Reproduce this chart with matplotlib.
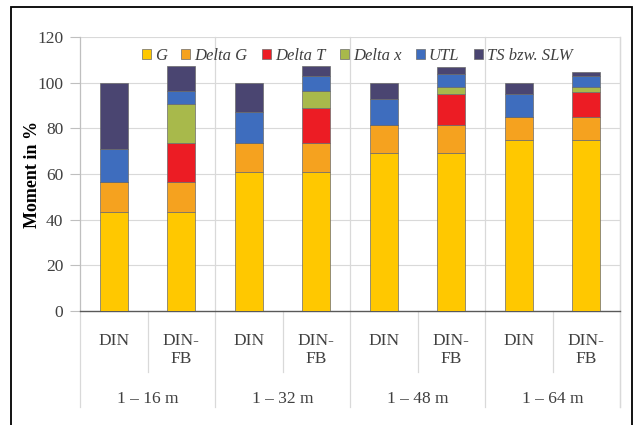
import matplotlib

matplotlib.use("Agg")
import matplotlib.pyplot as plt
from matplotlib.patches import Rectangle
import numpy as np

# data (percent of moment)
bar_labels = ["DIN", "DIN-\nFB"] * 4
groups = ["1 – 16 m", "1 – 32 m", "1 – 48 m", "1 – 64 m"]
series = ["G", "Delta G", "Delta T", "Delta x", "UTL", "TS bzw. SLW"]
g_vals = [43.4, 43.4, 60.7, 60.7, 69.3, 69.3, 74.9, 74.9]
delta_g = [13.2, 13.2, 12.7, 12.7, 12.1, 12.1, 9.9, 9.9]
delta_t = [0, 17.1, 0, 15.4, 0, 13.6, 0, 11.0]
delta_x = [0, 17.0, 0, 7.6, 0, 3.2, 0, 2.4]
utl = [14.2, 5.7, 13.6, 6.6, 11.3, 5.8, 10.2, 4.8]
ts_slw = [29.2, 10.9, 13.0, 4.3, 7.3, 3.0, 5.0, 1.8]
yticks = [0, 20, 40, 60, 80, 100, 120]

colors = ["#FFC800", "#F5A21F", "#EC1C24", "#A8B94B", "#3E6DBE", "#4A4571"]
serif = "Liberation Serif"
grid_c = "#D9D9D9"

fig = plt.figure(figsize=(6.39, 4.25), dpi=100)
W, H = 639, 425
ax = fig.add_axes([80 / W, 1 - 311 / H, 540 / W, 274 / H])

x = np.arange(len(bar_labels))
bottom = np.zeros(len(x))
for name, vals, col in zip(series, [g_vals, delta_g, delta_t, delta_x, utl, ts_slw], colors):
    vals = np.array(vals, dtype=float)
    ax.bar(x, vals, 0.42, bottom=bottom, color=col, edgecolor="#6b6b6b",
           linewidth=0.5, label=name, zorder=3)
    bottom += vals

ax.set_xlim(-0.5, len(x) - 0.5)
ax.set_ylim(0, 120)
ax.set_yticks(yticks)
ax.set_yticklabels([str(t) for t in yticks], fontfamily=serif, fontsize=12.5, color="#404040")
ax.tick_params(axis="y", length=7, width=0.8, color="#BFBFBF", pad=5)
ax.set_xticks([])
for t in yticks[1:]:
    ax.axhline(t, color=grid_c, linewidth=0.8, zorder=0)

for side in ["top", "right"]:
    ax.spines[side].set_visible(False)
ax.spines["left"].set_color("#BFBFBF")
ax.spines["bottom"].set_color("#595959")
ax.spines["bottom"].set_linewidth(1.0)

ax.set_ylabel("Moment in %", fontfamily=serif, fontsize=13, fontweight="bold")
ax.yaxis.set_label_coords((41 - 80) / 540, 0.5)

# category separators (two-level axis, Excel style)
tr = ax.get_xaxis_transform()
plot_h = 274
for b in np.arange(-0.5, len(x), 2):
    ax.plot([b, b], [1, -(407 - 311) / plot_h], transform=tr, color=grid_c,
            linewidth=0.9, clip_on=False, zorder=0)
for b in np.arange(0.5, len(x), 2):
    ax.plot([b, b], [0, -(372 - 311) / plot_h], transform=tr, color=grid_c,
            linewidth=0.9, clip_on=False, zorder=0)
ax.plot([len(x) - 0.5] * 2, [1, -(407 - 311) / plot_h], transform=tr, color=grid_c,
        linewidth=0.9, clip_on=False, zorder=0)

for xi, lab in zip(x, bar_labels):
    ax.text(xi, -(333 - 311) / plot_h, lab, transform=tr, ha="center", va="top",
            fontfamily=serif, fontsize=12.5, color="#404040", linespacing=1.2)
for gi, lab in enumerate(groups):
    ax.text(2 * gi + 0.5, -(399 - 311) / plot_h, lab, transform=tr, ha="center",
            va="center", fontfamily=serif, fontsize=12.5, color="#404040")

leg = ax.legend(loc="upper center", bbox_to_anchor=(0.513, 0.995), ncol=6, frameon=False,
                prop={"family": serif, "style": "italic", "size": 12},
                handlelength=0.55, handleheight=0.55, handletextpad=0.25,
                columnspacing=0.85, borderaxespad=0.2)
for t in leg.get_texts():
    t.set_color("#404040")

# outer chart frame
fig.patches.append(Rectangle((11 / W, -0.05), 621 / W, 1.05 - 7 / H, transform=fig.transFigure,
                             fill=False, edgecolor="black", linewidth=1.3))

fig.savefig("out.png", dpi=100)
